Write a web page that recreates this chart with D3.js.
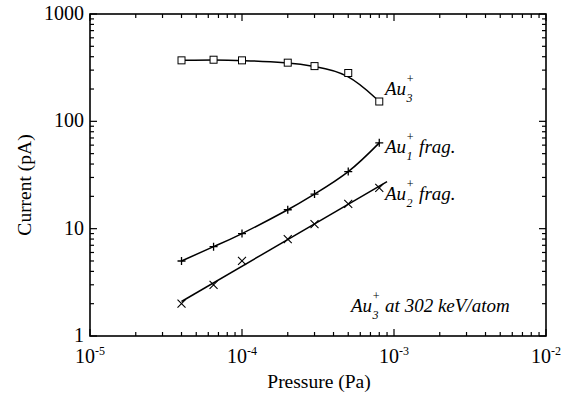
<!DOCTYPE html>
<html><head><meta charset="utf-8">
<script src="https://cdn.jsdelivr.net/npm/d3@7"></script>
<style>
body{margin:0;background:#fff;}
</style></head><body>
<svg id="c" width="572" height="405" font-family="'Liberation Serif', 'DejaVu Serif', serif"></svg>
<script>
const pressure = [4e-5, 6.5e-5, 1e-4, 2e-4, 3e-4, 5e-4, 8e-4];
const au3 = [370, 375, 370, 352, 327, 282, 153];
const au1frag = [5, 6.8, 9, 15, 21, 34, 63];
const au2frag = [2, 3, 5, 8, 11, 17, 24];
const xTickVals = [1e-5, 1e-4, 1e-3, 1e-2];
const xTickExp = ["-5", "-4", "-3", "-2"];
const yTickVals = [1, 10, 100, 1000];
const yTickLabels = ["1", "10", "100", "1000"];

const svg = d3.select("#c");
const L = 90, R = 546, T = 14, B = 336;
const x = d3.scaleLog().domain([1e-5, 1e-2]).range([L, R]);
const y = d3.scaleLog().domain([1, 1000]).range([B, T]);

const minorX = [], minorY = [];
for (let d = -5; d < -2; d++) for (let k = 2; k <= 9; k++) minorX.push(k * Math.pow(10, d));
for (let d = 0; d < 3; d++) for (let k = 2; k <= 9; k++) minorY.push(k * Math.pow(10, d));

const g = svg.append("g");
const tk = g.append("g").attr("stroke", "#000").attr("stroke-width", 1.2);
xTickVals.forEach(v => {
  tk.append("line").attr("x1", x(v)).attr("x2", x(v)).attr("y1", B).attr("y2", B - 7);
  tk.append("line").attr("x1", x(v)).attr("x2", x(v)).attr("y1", T).attr("y2", T + 7);
});
minorX.forEach(v => {
  tk.append("line").attr("x1", x(v)).attr("x2", x(v)).attr("y1", B).attr("y2", B - 4);
  tk.append("line").attr("x1", x(v)).attr("x2", x(v)).attr("y1", T).attr("y2", T + 4);
});
yTickVals.forEach(v => {
  tk.append("line").attr("y1", y(v)).attr("y2", y(v)).attr("x1", L).attr("x2", L + 7);
  tk.append("line").attr("y1", y(v)).attr("y2", y(v)).attr("x1", R).attr("x2", R - 7);
});
minorY.forEach(v => {
  tk.append("line").attr("y1", y(v)).attr("y2", y(v)).attr("x1", L).attr("x2", L + 4);
  tk.append("line").attr("y1", y(v)).attr("y2", y(v)).attr("x1", R).attr("x2", R - 4);
});
g.append("rect").attr("x", L).attr("y", T).attr("width", R - L).attr("height", B - T)
  .attr("fill", "none").attr("stroke", "#000").attr("stroke-width", 1.6);

xTickVals.forEach((v, i) => {
  const t = g.append("text").attr("x", x(v)).attr("y", 363).attr("text-anchor", "middle").attr("font-size", 20);
  t.append("tspan").text("10");
  t.append("tspan").attr("dy", -8).attr("font-size", 12).text(xTickExp[i]);
});
yTickVals.forEach((v, i) => {
  g.append("text").attr("x", 84).attr("y", y(v) + 6).attr("text-anchor", "end").attr("font-size", 20).text(yTickLabels[i]);
});
g.append("text").attr("x", 319).attr("y", 388).attr("text-anchor", "middle").attr("font-size", 19.5).text("Pressure (Pa)");
g.append("text").attr("transform", "translate(31,185) rotate(-90)").attr("text-anchor", "middle").attr("font-size", 19.5).text("Current (pA)");

const smooth = d3.line().x(d => x(d[0])).y(d => y(d[1])).curve(d3.curveBasis);
const line = d3.line().x(d => x(d[0])).y(d => y(d[1])).curve(d3.curveNatural);
const d3s = pressure.map((p, i) => [p, au3[i]]);
const d1s = pressure.map((p, i) => [p, au1frag[i]]);
const d2s = pressure.map((p, i) => [p, au2frag[i]]);
g.append("path").attr("d", smooth(d3s)).attr("fill", "none").attr("stroke", "#000").attr("stroke-width", 1.5);
g.append("path").attr("d", line(d1s)).attr("fill", "none").attr("stroke", "#000").attr("stroke-width", 1.5);
const lx = pressure.map(Math.log10), ly = au2frag.map(Math.log10);
const mx = d3.mean(lx), my = d3.mean(ly);
const slope = d3.sum(lx.map((v, i) => (v - mx) * (ly[i] - my))) / d3.sum(lx.map(v => (v - mx) ** 2));
const fit = p => Math.pow(10, my + slope * (Math.log10(p) - mx));
const fitX = [pressure[0], 9e-4];
g.append("line").attr("x1", x(fitX[0])).attr("y1", y(fit(fitX[0]))).attr("x2", x(fitX[1])).attr("y2", y(fit(fitX[1])))
  .attr("stroke", "#000").attr("stroke-width", 1.5);

d3s.forEach(d => g.append("rect").attr("x", x(d[0]) - 3.5).attr("y", y(d[1]) - 3.5).attr("width", 7).attr("height", 7)
  .attr("fill", "#fff").attr("stroke", "#000").attr("stroke-width", 1));
d1s.forEach(d => {
  g.append("path").attr("d", `M${x(d[0]) - 4},${y(d[1])}h8M${x(d[0])},${y(d[1]) - 4}v8`).attr("stroke", "#000").attr("stroke-width", 1.3);
});
d2s.forEach(d => {
  g.append("path").attr("d", `M${x(d[0]) - 4},${y(d[1]) - 4}l8,8M${x(d[0]) - 4},${y(d[1]) + 4}l8,-8`).attr("stroke", "#000").attr("stroke-width", 1.1);
});

function lab(xp, yp, sub, rest) {
  const main = g.append("text").attr("x", xp).attr("y", yp).attr("font-size", 19).attr("font-style", "italic").attr("fill", "#000").text("Au");
  const w = main.node().getComputedTextLength();
  g.append("text").attr("x", xp + w + 0.5).attr("y", yp + 7).attr("font-size", 12).attr("font-style", "italic").attr("fill", "#000").text(sub);
  g.append("text").attr("x", xp + w).attr("y", yp - 12).attr("font-size", 12).attr("font-style", "italic").attr("fill", "#000").text("+");
  if (rest) g.append("text").attr("x", xp + w + 13).attr("y", yp).attr("font-size", 19).attr("font-style", "italic").attr("fill", "#000").text(rest);
}
lab(385, 95, "3", "");
lab(385, 153, "1", "frag.");
lab(385, 200, "2", "frag.");
lab(351, 312, "3", "at 302 keV/atom");
</script></body></html>
